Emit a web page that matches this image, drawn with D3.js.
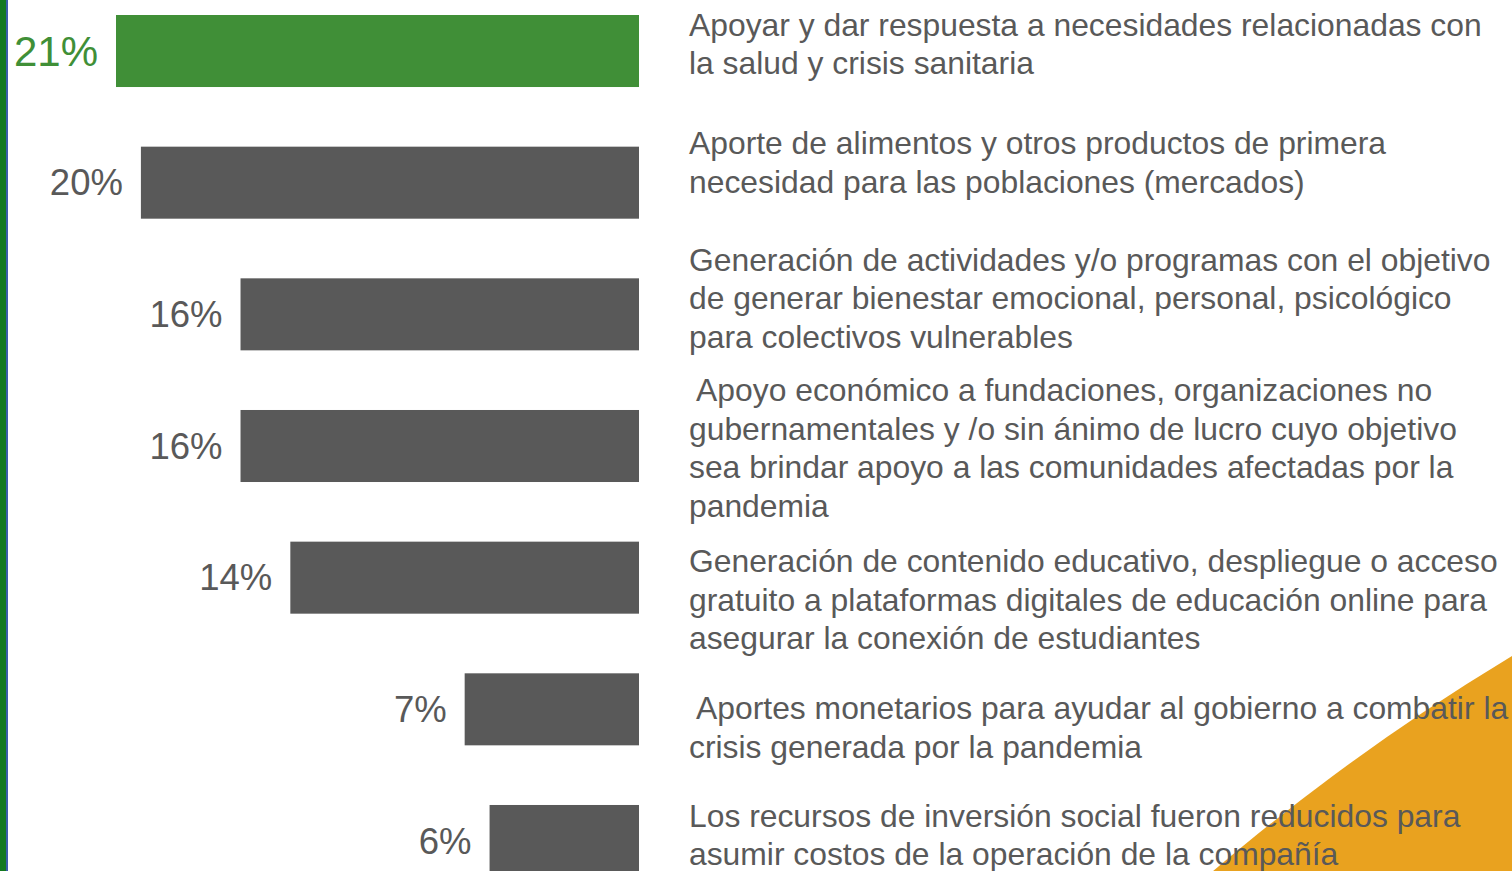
<!DOCTYPE html>
<html>
<head>
<meta charset="utf-8">
<script src="https://cdn.jsdelivr.net/npm/d3@7"></script>
<style>
  html, body { margin: 0; padding: 0; background: #fff; overflow: hidden; }
  text { font-family: "Liberation Sans", Arial, sans-serif; white-space: pre; }
</style>
</head>
<body>
<svg id="chart" width="1512" height="871"></svg>
<script>
// share of companies per type of social action
var values = [21, 20, 16, 16, 14, 7, 6];

// label text, already wrapped like the original slide
var labels = [
  ["Apoyar y dar respuesta a necesidades relacionadas con", "la salud y crisis sanitaria"],
  ["Aporte de alimentos y otros productos de primera", "necesidad para las poblaciones (mercados)"],
  ["Generación de actividades y/o programas con el objetivo", "de generar bienestar emocional, personal, psicológico", "para colectivos vulnerables"],
  [" Apoyo económico a fundaciones, organizaciones no", "gubernamentales y /o sin ánimo de lucro cuyo objetivo", "sea brindar apoyo a las comunidades afectadas por la", "pandemia"],
  ["Generación de contenido educativo, despliegue o acceso", "gratuito a plataformas digitales de educación online para", "asegurar la conexión de estudiantes"],
  [" Aportes monetarios para ayudar al gobierno a combatir la", "crisis generada por la pandemia"],
  ["Los recursos de inversión social fueron reducidos para", "asumir costos de la operación de la compañía"]
];

var svg = d3.select("#chart"),
    width = +svg.attr("width"),
    height = +svg.attr("height");

var gray = "#595959",
    green = "#408f37";

// text boxes on the slide are not exactly centred on the bars
var noteShift = [-6, -19, -15, 3, 23, 19, -5];
var lineH = 38.5;

// orange decoration in the lower right corner
svg.append("circle")
    .attr("cx", 2684)
    .attr("cy", 2600)
    .attr("r", 2270)
    .attr("fill", "#e9a21f");

// green / blue stripe on the left edge
svg.append("rect").attr("x", 0).attr("y", 0).attr("width", 6).attr("height", height).attr("fill", "#13791f");
svg.append("rect").attr("x", 6).attr("y", 0).attr("width", 2).attr("height", height).attr("fill", "#3b5ea8");

var x = d3.scaleLinear()
    .domain([0, 21])
    .range([639, 116]);

var y = d3.scaleBand()
    .domain(d3.range(values.length))
    .range([15, 877])
    .paddingInner(0.453)
    .paddingOuter(0);

var bars = svg.append("g").attr("class", "bars");

bars.selectAll("rect")
    .data(values)
    .enter().append("rect")
    .attr("x", function(d) { return x(d); })
    .attr("y", function(d, i) { return y(i); })
    .attr("width", function(d) { return x(0) - x(d); })
    .attr("height", y.bandwidth())
    .attr("fill", function(d, i) { return i === 0 ? green : gray; });

// percentage labels left of each bar
bars.selectAll("text")
    .data(values)
    .enter().append("text")
    .attr("x", function(d) { return x(d) - 18; })
    .attr("y", function(d, i) { return y(i) + y.bandwidth() / 2; })
    .attr("dy", "0.35em")
    .attr("text-anchor", "end")
    .attr("font-size", function(d, i) { return i === 0 ? 42 : 36.5; })
    .attr("fill", function(d, i) { return i === 0 ? green : gray; })
    .text(function(d) { return d + "%"; });

// descriptions on the right
var notes = svg.append("g").attr("class", "notes")
    .selectAll("text")
    .data(labels)
    .enter().append("text")
    .attr("font-size", 30)
    .attr("fill", gray)
    .attr("transform", function(d, i) {
      var c = y(i) + y.bandwidth() / 2;
      var top = c - (d.length - 1) * lineH / 2 + 10 + noteShift[i];
      return "translate(689," + top + ")";
    });

var tspans = notes.selectAll("tspan")
    .data(function(d) { return d; })
    .enter().append("tspan")
    .attr("x", 0)
    .attr("y", function(d, j) { return j * lineH; })
    .text(function(d) { return d; });

// first line spans 689..1482 on the slide, size the font to that
var firstW = tspans.node().getComputedTextLength();
notes.attr("font-size", 30 * 793 / firstW);
</script>
</body>
</html>
